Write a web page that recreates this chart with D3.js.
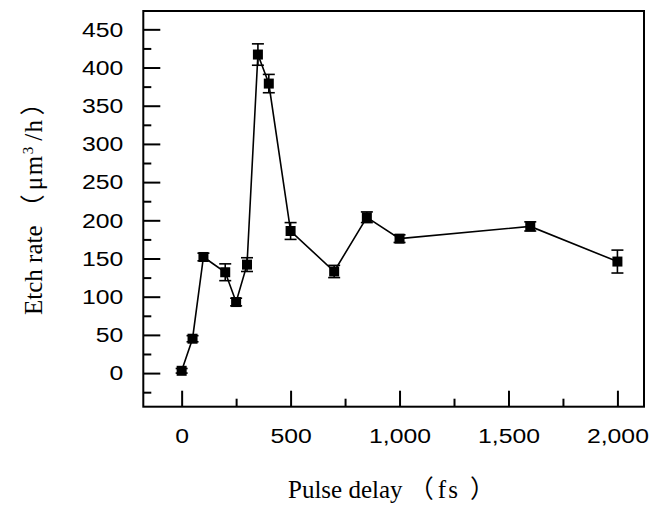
<!DOCTYPE html>
<html>
<head>
<meta charset="utf-8">
<script src="https://cdn.jsdelivr.net/npm/d3@7"></script>
<style>
  body { margin: 0; background: #fff; }
  svg { display: block; }
</style>
</head>
<body>
<svg id="chart" width="652" height="506"></svg>
<script>
// Etch rate measured at each pulse delay, with error bar half-widths
const delays    = [0, 50, 100, 200, 250, 300, 350, 400, 500, 700, 850, 1000, 1600, 2000];
const etchRates = [3, 45, 152, 132, 93, 142, 417, 379, 186, 133, 204, 176, 192, 146];
const errors    = [3, 4, 5, 11, 5, 9, 14, 12, 11, 8, 7, 5, 6, 15];

// Axis ticks
const yMajorTicks = [0, 50, 100, 150, 200, 250, 300, 350, 400, 450];
const yMinorTicks = [-25, 25, 75, 125, 175, 225, 275, 325, 375, 425];
const xMajorTicks = [0, 500, 1000, 1500, 2000];
const xMinorTicks = [250, 750, 1250, 1750];

const W = 652, H = 506;
const margin = { left: 143.3, right: 8, top: 11, bottom: 99.3 };
const plotW = W - margin.left - margin.right;
const plotH = H - margin.top - margin.bottom;

const svg = d3.select("#chart");
const g = svg.append("g").attr("transform", `translate(${margin.left},${margin.top})`);

const x = d3.scaleLinear().domain([-176, 2122]).range([0, plotW]);
const y = d3.scaleLinear().domain([-44, 474]).range([plotH, 0]);

const tickFont = "'Liberation Sans', Arial, Helvetica, sans-serif";
const serifFont = "'Liberation Serif', 'Times New Roman', 'Noto Sans CJK SC', serif";
const cjkFont = "'Noto Sans CJK SC', 'Liberation Serif', serif";
const stretch = 1.18;

function styleAxis(sel) {
  sel.select(".domain").remove();
  sel.selectAll(".tick line").attr("stroke", "#000").attr("stroke-width", 2);
  sel.selectAll(".tick text")
    .attr("fill", "#000")
    .style("font-family", tickFont)
    .style("font-size", "21px");
}

// Bottom axis: labelled major ticks and unlabelled minor ticks, drawn inward
const xAxisMajor = g.append("g")
  .attr("transform", `translate(0,${plotH})`)
  .call(d3.axisBottom(x).tickValues(xMajorTicks).tickSize(-16).tickPadding(21.5).tickFormat(d3.format(",")));
styleAxis(xAxisMajor);
xAxisMajor.selectAll(".tick text").attr("transform", `scale(${stretch},1)`);

const xAxisMinor = g.append("g")
  .attr("transform", `translate(0,${plotH})`)
  .call(d3.axisBottom(x).tickValues(xMinorTicks).tickSize(-8).tickFormat(""));
styleAxis(xAxisMinor);

// Left axis
const yAxisMajor = g.append("g")
  .call(d3.axisLeft(y).tickValues(yMajorTicks).tickSize(-17).tickPadding(20).tickFormat(d3.format("d")));
styleAxis(yAxisMajor);
yAxisMajor.selectAll(".tick text")
  .attr("x", function () { return +d3.select(this).attr("x") / stretch; })
  .attr("transform", `scale(${stretch},1)`);

const yAxisMinor = g.append("g")
  .call(d3.axisLeft(y).tickValues(yMinorTicks).tickSize(-8).tickFormat(""));
styleAxis(yAxisMinor);

// Plot frame
g.append("rect")
  .attr("x", 0).attr("y", 0)
  .attr("width", plotW).attr("height", plotH)
  .attr("fill", "none")
  .attr("stroke", "#000")
  .attr("stroke-width", 2);

const points = delays.map((d, i) => ({ delay: d, rate: etchRates[i], err: errors[i] }));

// Connecting line
g.append("path")
  .datum(points)
  .attr("fill", "none")
  .attr("stroke", "#000")
  .attr("stroke-width", 1.6)
  .attr("d", d3.line().x(p => x(p.delay)).y(p => y(p.rate)));

// Error bars with caps
const capHalf = 6;
const eb = g.append("g").attr("stroke", "#000").attr("stroke-width", 1.6);
points.forEach(p => {
  const cx = x(p.delay), y1 = y(p.rate - p.err), y2 = y(p.rate + p.err);
  eb.append("line").attr("x1", cx).attr("x2", cx).attr("y1", y1).attr("y2", y2);
  eb.append("line").attr("x1", cx - capHalf).attr("x2", cx + capHalf).attr("y1", y1).attr("y2", y1);
  eb.append("line").attr("x1", cx - capHalf).attr("x2", cx + capHalf).attr("y1", y2).attr("y2", y2);
});

// Square markers
const ms = 10;
g.append("g").selectAll("rect")
  .data(points)
  .join("rect")
  .attr("x", p => x(p.delay) - ms / 2)
  .attr("y", p => y(p.rate) - ms / 2)
  .attr("width", ms).attr("height", ms)
  .attr("fill", "#000");

// X axis title
const xt = svg.append("text")
  .attr("x", 288)
  .attr("y", 498)
  .style("font-family", serifFont)
  .style("font-size", "25px")
  .attr("fill", "#000");
xt.append("tspan").text("Pulse delay ");
xt.append("tspan").style("font-family", cjkFont).text("\uFF08");
xt.append("tspan").attr("dx", 4).style("letter-spacing", "2px").text("fs");
xt.append("tspan").attr("dx", 10).style("font-family", cjkFont).text("\uFF09");

// Y axis title
const yt = svg.append("text")
  .attr("transform", "translate(42,315) rotate(-90)")
  .style("font-family", serifFont)
  .style("font-size", "25px")
  .attr("fill", "#000");
yt.append("tspan").text("Etch rate ");
yt.append("tspan").style("font-family", cjkFont).text("\uFF08");
yt.append("tspan").attr("dx", 4).style("letter-spacing", "1.5px").text("\u03BCm");
yt.append("tspan").attr("dy", "-0.6em").style("font-size", "15px").text("3");
yt.append("tspan").attr("dy", "0.36em").attr("dx", 6).style("letter-spacing", "1.5px").text("/h");
yt.append("tspan").attr("dx", 3).style("font-family", cjkFont).text("\uFF09");
</script>
</body>
</html>
